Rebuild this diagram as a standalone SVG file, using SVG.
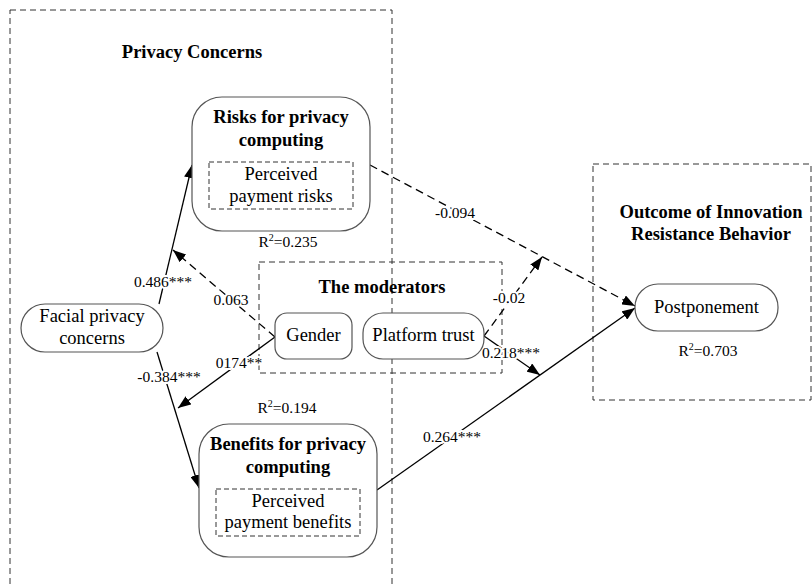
<svg xmlns="http://www.w3.org/2000/svg" width="812" height="587" viewBox="0 0 812 587">
<defs>
<marker id="ah" markerUnits="userSpaceOnUse" markerWidth="14" markerHeight="10" refX="13" refY="5" orient="auto">
<path d="M0,0 L13,5 L0,10 Z" fill="#000"/>
</marker>
<style>
.box{fill:none;stroke:#333;stroke-width:1;stroke-dasharray:6,4}
.node{fill:#fff;stroke:#555;stroke-width:1.2}
.inner{fill:none;stroke:#333;stroke-width:1;stroke-dasharray:5,3}
text{font-family:"Liberation Serif","Times New Roman",serif;fill:#000}
.t{font-size:18.5px;text-anchor:middle}
.b{font-size:18.5px;font-weight:bold;text-anchor:middle}
.l{font-size:15.5px;text-anchor:middle;stroke:#fff;stroke-width:4;paint-order:stroke;stroke-linejoin:round}
.r{font-size:15.5px;text-anchor:middle}
.s{fill:none;stroke:#000;stroke-width:1.3}
.d{fill:none;stroke:#000;stroke-width:1.3;stroke-dasharray:8,5}
</style>
</defs>
<g id="containers">
<rect class="box" x="10" y="10" width="382" height="590"/>
<text class="b" x="192" y="58">Privacy Concerns</text>
<rect class="box" x="259" y="262" width="243" height="111"/>
<text class="b" x="382" y="293">The moderators</text>
<rect class="box" x="593" y="164" width="218" height="236"/>
<text class="b" x="711" y="218">Outcome of Innovation</text>
<text class="b" x="711" y="240">Resistance Behavior</text>
</g>
<g id="connectors">
<line class="s" x1="159" y1="304" x2="192" y2="165" marker-end="url(#ah)"/>
<line class="d" x1="275" y1="337" x2="173" y2="250" marker-end="url(#ah)"/>
<line class="s" x1="275" y1="337" x2="178" y2="408" marker-end="url(#ah)"/>
<line class="s" x1="157" y1="352" x2="199" y2="488" marker-end="url(#ah)"/>
<line class="d" x1="370" y1="165" x2="635" y2="306" marker-end="url(#ah)"/>
<line class="s" x1="377" y1="490" x2="635" y2="308" marker-end="url(#ah)"/>
<line class="d" x1="484" y1="336" x2="542" y2="257" marker-end="url(#ah)"/>
<line class="s" x1="484" y1="336" x2="540" y2="375" marker-end="url(#ah)"/>
<text class="l" x="163" y="287">0.486***</text>
<text class="l" x="231" y="305">0.063</text>
<text class="l" x="239" y="368">0174**</text>
<text class="l" x="169" y="382">-0.384***</text>
<text class="l" x="455" y="218">-0.094</text>
<text class="l" x="509" y="303">-0.02</text>
<text class="l" x="511" y="358">0.218***</text>
<text class="l" x="452" y="442">0.264***</text>
</g>
<g id="risks">
<rect class="node" x="192" y="97" width="178" height="134" rx="30"/>
<text class="b" x="281" y="123">Risks for privacy</text>
<text class="b" x="281" y="146">computing</text>
<rect class="inner" x="209" y="162" width="144" height="47"/>
<text class="t" x="281" y="180">Perceived</text>
<text class="t" x="281" y="202">payment risks</text>
<text class="r" x="288" y="247">R<tspan dy="-6" font-size="10">2</tspan><tspan dy="6">=0.235</tspan></text>
</g>
<g id="benefits">
<rect class="node" x="199" y="424" width="178" height="133" rx="30"/>
<text class="b" x="288" y="450">Benefits for privacy</text>
<text class="b" x="288" y="473">computing</text>
<rect class="inner" x="216" y="489" width="144" height="47"/>
<text class="t" x="288" y="507">Perceived</text>
<text class="t" x="288" y="528">payment benefits</text>
<text class="r" x="287" y="413">R<tspan dy="-6" font-size="10">2</tspan><tspan dy="6">=0.194</tspan></text>
</g>
<g id="facial">
<rect class="node" x="21" y="304" width="142" height="48" rx="24"/>
<text class="t" x="92" y="322">Facial privacy</text>
<text class="t" x="92" y="344">concerns</text>
</g>
<g id="gender">
<rect class="node" x="275" y="313" width="77" height="46" rx="12"/>
<text class="t" x="313.5" y="341">Gender</text>
</g>
<g id="platform">
<rect class="node" x="363" y="313" width="121" height="46" rx="20"/>
<text class="t" x="423.5" y="341">Platform trust</text>
</g>
<g id="postponement">
<rect class="node" x="635" y="284" width="143" height="47" rx="23"/>
<text class="t" x="706.5" y="313">Postponement</text>
<text class="r" x="708" y="356">R<tspan dy="-6" font-size="10">2</tspan><tspan dy="6">=0.703</tspan></text>
</g>
</svg>
